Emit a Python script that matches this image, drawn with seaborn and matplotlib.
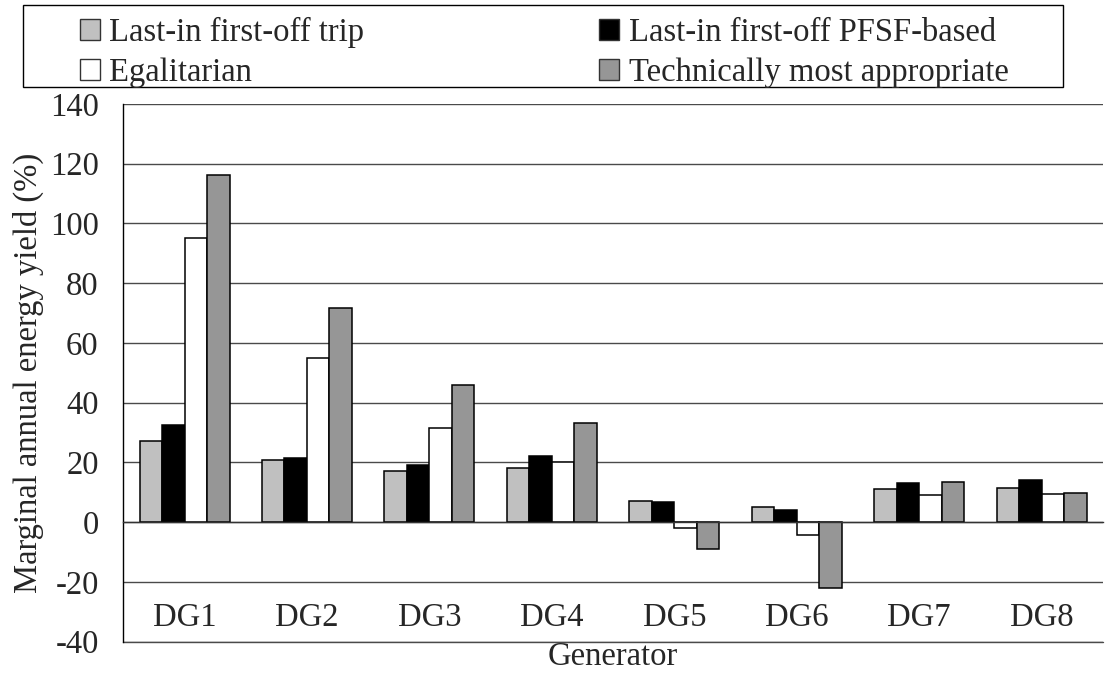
import numpy as np
import pandas as pd
import seaborn as sns
import matplotlib.pyplot as plt
from matplotlib.patches import Patch, Rectangle

generators = ['DG1', 'DG2', 'DG3', 'DG4', 'DG5', 'DG6', 'DG7', 'DG8']
strategies = ['Last-in first-off trip', 'Last-in first-off PFSF-based',
              'Egalitarian', 'Technically most appropriate']
lifo_trip = [27.3, 20.7, 17.3, 18.2, 7.0, 5.0, 11.2, 11.6]
lifo_pfsf = [32.7, 21.4, 19.0, 22.0, 6.6, 4.0, 13.0, 14.0]
egalitarian = [95.3, 55.0, 31.7, 20.1, -2.0, -4.4, 9.0, 9.4]
technical = [116.2, 71.7, 45.8, 33.3, -9.1, -22.0, 13.3, 9.7]
colors = ['#c0c0c0', '#000000', '#ffffff', '#969696']
yticks = list(range(-40, 141, 20))

df = pd.DataFrame({
    'Generator': generators * 4,
    'Strategy': np.repeat(strategies, len(generators)),
    'Yield': lifo_trip + lifo_pfsf + egalitarian + technical,
})

sns.set_style('white')
plt.rcParams['font.family'] = ['Liberation Serif', 'DejaVu Serif']
fs = 23.5

W, H = 1105, 673
fig = plt.figure(figsize=(W / 100, H / 100), dpi=100)
ax = fig.add_axes([123.3 / W, 1 - 641.7 / H, (1103 - 123.3) / W, (641.7 - 104) / H])

sns.barplot(data=df, x='Generator', y='Yield', hue='Strategy', hue_order=strategies,
            palette=colors, edgecolor='black', linewidth=1.1, width=0.735, gap=0,
            legend=False, ax=ax, zorder=3)

ax.set_ylim(-40, 140)
ax.set_xlim(-0.5, 7.5)
ax.set_yticks(yticks)
ax.set_yticklabels([str(t) for t in yticks])
ax.set_xticks(range(len(generators)))
ax.set_xticklabels(generators)
ax.set_xticks(np.arange(-0.5, 8, 1), minor=True)

ax.grid(axis='y', color='#4a4a4a', linewidth=1.0, zorder=0)
ax.axhline(-40, color='#4a4a4a', linewidth=1.0, clip_on=False, zorder=0)
ax.set_axisbelow(True)
for s in ['top', 'right']:
    ax.spines[s].set_visible(False)
ax.spines['left'].set_color('black')
ax.spines['left'].set_linewidth(1.0)
ax.spines['bottom'].set_position(('data', 0))
ax.spines['bottom'].set_color('#333333')
ax.spines['bottom'].set_linewidth(1.0)
ax.spines['bottom'].set_zorder(4)

ax.tick_params(axis='y', direction='out', length=7.2, width=1.0, color='#4a4a4a',
               pad=10.5, labelsize=fs)
ax.tick_params(axis='x', which='major', length=0, pad=57.5, labelsize=fs)
ax.tick_params(axis='x', which='minor', direction='out', length=7.2, width=1.0,
               color='#555555')

ax.set_xlabel('Generator', fontsize=fs, va='baseline')
ax.xaxis.set_label_coords(0.5, -(665 - 641.7) / (641.7 - 104))
ax.set_ylabel('')
fig.text(28 / W, 1 - 373 / H, 'Marginal annual energy yield (%)', fontsize=fs,
         rotation=90, ha='center', va='center')

# legend box and entries
fig.patches.append(Rectangle((23 / W, 1 - 87 / H), (1063 - 23) / W, (87 - 5) / H,
                             transform=fig.transFigure, fill=False,
                             edgecolor='black', linewidth=1.0))
order = [0, 2, 1, 3]
handles = [Patch(facecolor=colors[i], edgecolor='#333333', linewidth=1.0) for i in order]
labels = [strategies[i] for i in order]
fig.legend(handles, labels, ncol=2, loc='upper left', frameon=False,
           bbox_to_anchor=(80 / W, 1 - 17 / H), bbox_transform=fig.transFigure,
           borderpad=0, borderaxespad=0, fontsize=fs, handlelength=0.6,
           handleheight=0.6, handletextpad=0.3, labelspacing=0.28, columnspacing=7.2)

fig.savefig('out.png', dpi=100)
